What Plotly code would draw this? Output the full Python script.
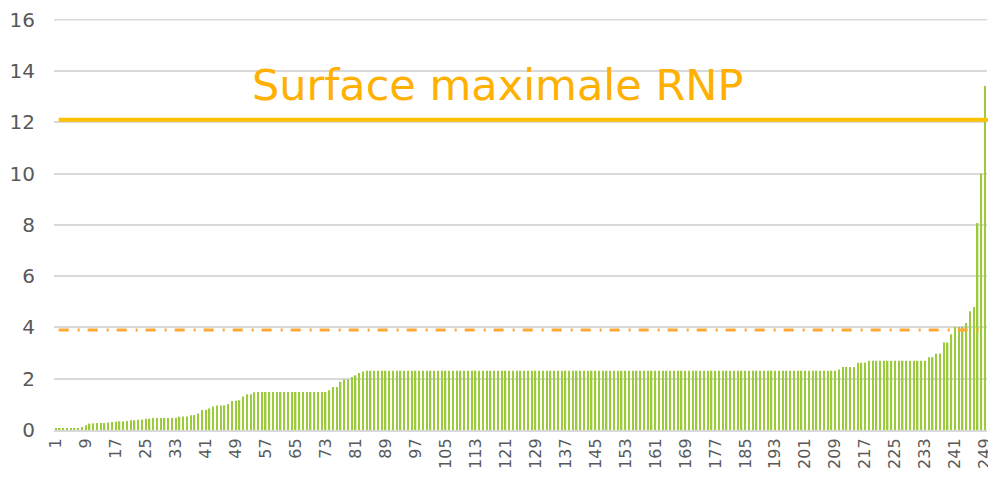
import plotly.graph_objects as go

# ---- data ----
categories = list(range(1, 250))

early = [0.04, 0.05, 0.06, 0.07, 0.07, 0.08, 0.08, 0.12, 0.19, 0.25,
         0.26, 0.27, 0.27, 0.27, 0.29, 0.31, 0.32, 0.34, 0.34, 0.35,
         0.38, 0.38, 0.40, 0.41, 0.44, 0.44, 0.47, 0.47, 0.47, 0.47,
         0.47, 0.47, 0.48, 0.52, 0.53, 0.53, 0.58, 0.58, 0.64, 0.78,
         0.79, 0.84, 0.92, 0.96, 0.96, 0.96, 1.01, 1.13, 1.14, 1.16,
         1.31, 1.39, 1.39, 1.47]                       # bars 1-54
plateau_low = [1.48] * 19                               # bars 55-73
rise = [1.55, 1.68, 1.68, 1.88, 1.97, 1.97, 2.07, 2.13, 2.22, 2.28]  # 74-83
plateau_mid = [2.31] * 126                              # bars 84-209
tail = [2.36, 2.46, 2.46, 2.46, 2.46, 2.62, 2.62, 2.62,
        2.70, 2.70, 2.70, 2.70, 2.70, 2.70, 2.70, 2.70,
        2.70, 2.70, 2.70, 2.70, 2.70, 2.70, 2.70, 2.70,
        2.84, 2.84, 2.98, 2.98, 3.41, 3.41, 3.73,
        4.02, 4.02, 4.02, 4.17, 4.63, 4.80, 8.07, 10.0, 13.42]  # 210-249
surfaces = early + plateau_low + rise + plateau_mid + tail

max_rnp = 12.1
ref_level = 3.9
y_max = 16
annotation_text = "Surface maximale RNP"
x_tickvals = list(range(1, 250, 8))
x_ticktext = [str(v) for v in x_tickvals]
y_tickvals = list(range(0, 17, 2))

fig = go.Figure()
fig.add_trace(go.Bar(
    x=categories, y=surfaces,
    marker=dict(color="#9BCB3C", line=dict(width=0)),
    showlegend=False,
))

# top gridline (at the edge of the range)
fig.add_shape(type="line", xref="paper", yref="y", x0=0, x1=1,
              y0=y_max, y1=y_max,
              line=dict(color="#D9D9D9", width=1.5), layer="below")
fig.add_shape(type="line", xref="paper", yref="y", x0=0.005, x1=0.995,
              y0=ref_level, y1=ref_level,
              line=dict(color="#FFA733", width=3, dash="10px,9px,2px,8px"),
              layer="above")
fig.add_shape(type="line", xref="paper", yref="y", x0=0.005, x1=1.002,
              y0=max_rnp, y1=max_rnp,
              line=dict(color="#FFC000", width=4), layer="above")

fig.add_annotation(x=0.475, xref="paper", y=13.46, yref="y",
                   text=annotation_text, showarrow=False,
                   font=dict(family="DejaVu Sans", size=43,
                             color="#FFB000"))

fig.update_layout(
    width=996, height=484,
    margin=dict(l=46, r=17, t=11, b=62),
    plot_bgcolor="white", paper_bgcolor="white",
    bargap=0.62,
    font=dict(family="DejaVu Sans", color="#595959"),
    xaxis=dict(range=[0.5, 249.5], tickmode="array", tickvals=x_tickvals,
               ticktext=x_ticktext, tickangle=-90, showgrid=False,
               tickfont=dict(size=16, color="#595959"),
               showline=True, linecolor="#D9D9D9", linewidth=2, ticks="",
               automargin=False, ticklabeloverflow="allow"),
    yaxis=dict(range=[0, 16.03], tickvals=y_tickvals, showgrid=True,
               gridcolor="#D9D9D9", gridwidth=1.5, zeroline=False,
               tickfont=dict(size=20, color="#595959"), ticks="",
               ticklabelstandoff=18, automargin=False,
               ticklabeloverflow="allow"),
)

fig.write_html("out.html")
